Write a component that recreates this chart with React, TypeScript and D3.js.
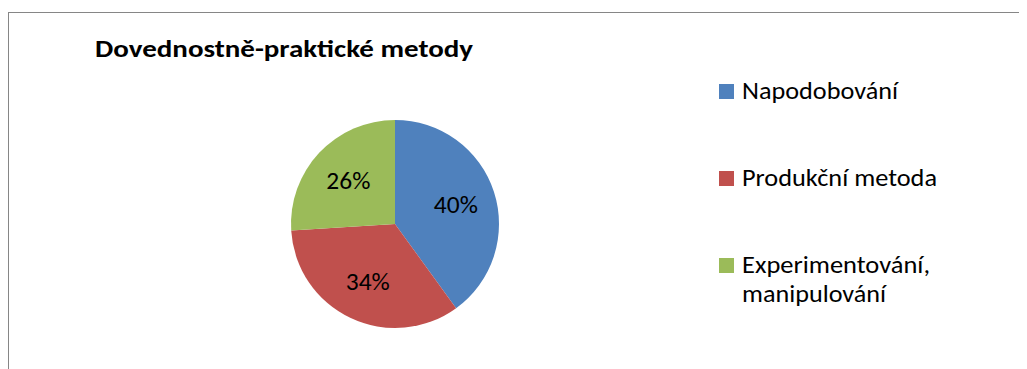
import React from "react";
import * as d3 from "d3";

const title = "Dovednostně-praktické metody";
const categories = ["Napodobování", "Produkční metoda", "Experimentování, manipulování"];
const legendLines = [["Napodobování"], ["Produkční metoda"], ["Experimentování,", "manipulování"]];
const values = [40, 34, 26];
const palette = ["#4F81BD", "#C0504D", "#9BBB59"];

const W = 1019;
const H = 361;
const FONT = "Calibri, Carlito, Lato, 'Noto Sans', sans-serif";

export default function App() {
  const cx = 387;
  const cy = 216;
  const r = 104;
  const pie = d3.pie<number>().sort(null).value((d) => d)(values);
  const arc = d3.arc<d3.PieArcDatum<number>>().innerRadius(0).outerRadius(r);
  const labelArc = d3.arc<d3.PieArcDatum<number>>().innerRadius(64).outerRadius(64);
  const total = d3.sum(values);
  const fmt = d3.format(".0%");

  const legendX = 711;
  const legendY = d3.scalePoint<number>().domain(d3.range(categories.length)).range([91, 265]);
  const legendWidths = [[156], [195], [188, 144]];

  return (
    <svg width={W} height={H} style={{ display: "block" }}>
      <rect x={0.5} y={4.5} width={W + 10} height={H + 10} fill="#fff" stroke="#868686" strokeWidth={1} />
      <text x={87} y={49} fontFamily={FONT} fontWeight="bold" fontSize={24} fill="#000"
        textLength={378} lengthAdjust="spacingAndGlyphs">{title}</text>
      <g transform={`translate(${cx},${cy})`}>
        {pie.map((p, i) => (
          <path key={i} d={arc(p) || ""} fill={palette[i]} />
        ))}
        {pie.map((p, i) => {
          const [x, y] = labelArc.centroid(p);
          return (
            <text key={"l" + i} x={x} y={y} dy="0.35em" textAnchor="middle" fontFamily={FONT}
              fontSize={24} fill="#000" textLength={44} lengthAdjust="spacingAndGlyphs">
              {fmt(p.data / total)}
            </text>
          );
        })}
      </g>
      {categories.map((c, i) => {
        const y = legendY(i) as number;
        return (
          <g key={c}>
            <rect x={legendX} y={y - 15} width={15} height={15} fill={palette[i]} />
            {legendLines[i].map((line, j) => (
              <text key={j} x={734} y={y + j * 29} fontFamily={FONT} fontSize={24} fill="#000"
                textLength={legendWidths[i][j]} lengthAdjust="spacingAndGlyphs">{line}</text>
            ))}
          </g>
        );
      })}
    </svg>
  );
}
